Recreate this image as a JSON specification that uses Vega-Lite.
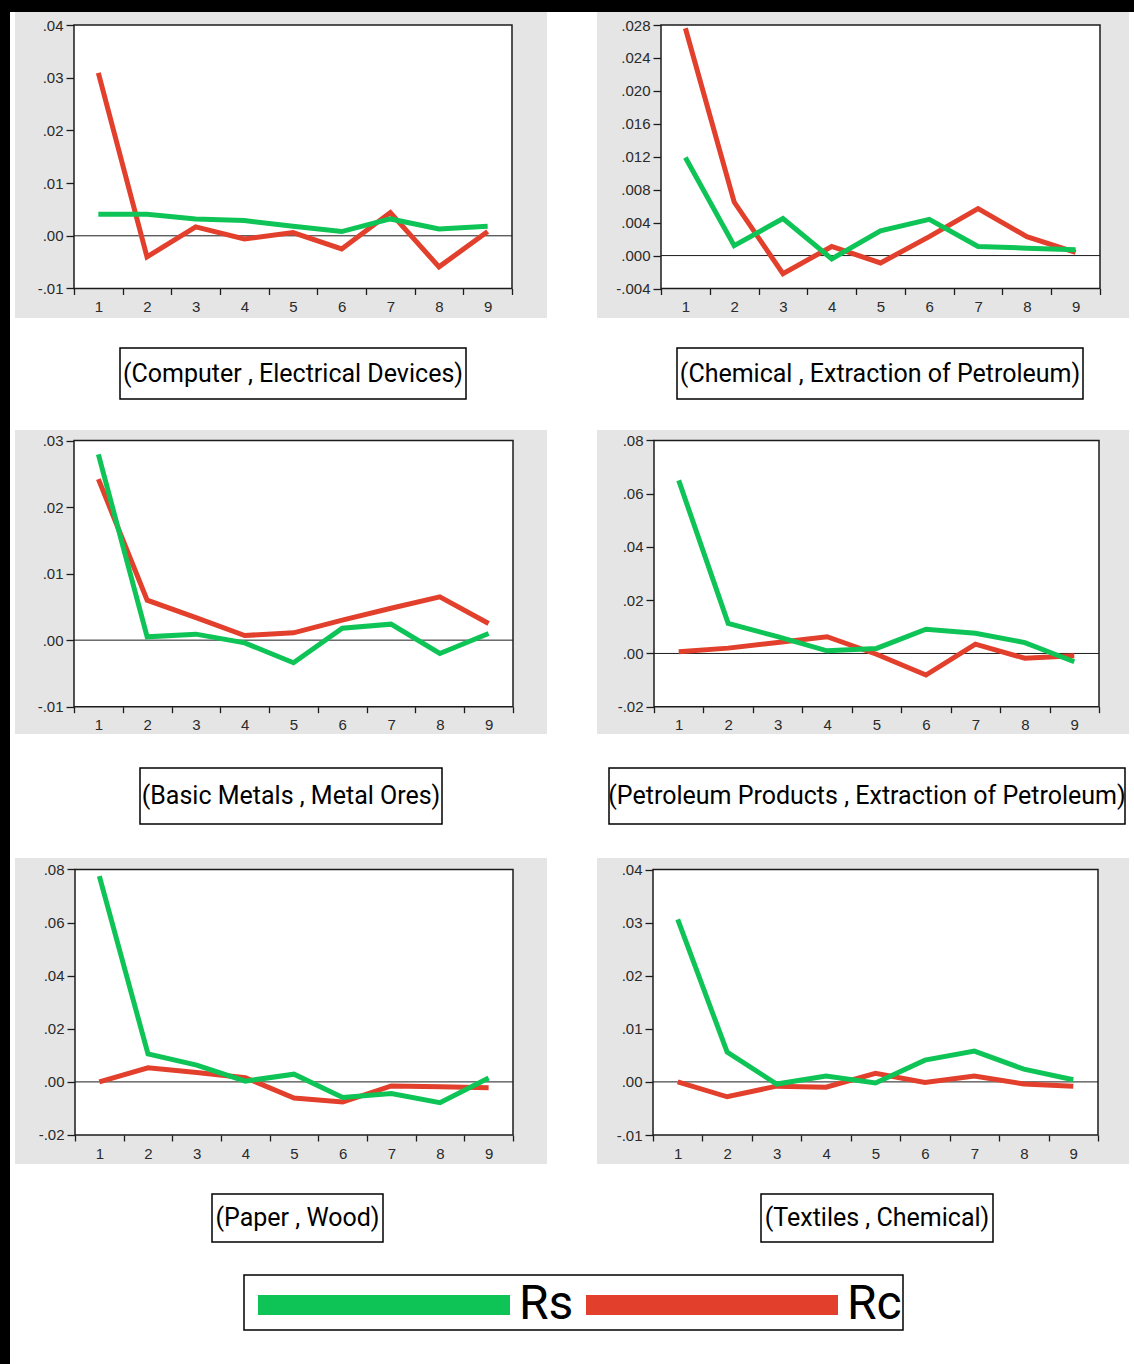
{
  "$schema": "https://vega.github.io/schema/vega-lite/v6.json",
  "background": "white",
  "padding": 0,
  "autosize": {"type": "pad"},
  "config": {
    "view": {"stroke": null},
    "concat": {"spacing": 0},
    "axis": {"grid": false, "domain": false, "labelFont": "Liberation Sans", "labelFontSize": 15, "labelColor": "#2a2a2a", "tickColor": "#1c1c1c", "tickWidth": 1.3, "labelOverlap": false, "labelFlush": false, "labelBound": false},
    "axisX": {"tickSize": 6, "labelPadding": 5, "labelAngle": 0},
    "axisY": {"tickSize": 8, "labelPadding": 3},
    "text": {"font": "Roboto", "fontSize": 25, "color": "black"}
  },
  "datasets": {
    "irf": [
      {"panel":1,"t":1,"series":"Rc","v":0.0309},{"panel":1,"t":2,"series":"Rc","v":-0.0040},{"panel":1,"t":3,"series":"Rc","v":0.0017},{"panel":1,"t":4,"series":"Rc","v":-0.0006},{"panel":1,"t":5,"series":"Rc","v":0.0006},{"panel":1,"t":6,"series":"Rc","v":-0.0025},{"panel":1,"t":7,"series":"Rc","v":0.0044},{"panel":1,"t":8,"series":"Rc","v":-0.0059},{"panel":1,"t":9,"series":"Rc","v":0.0008},
      {"panel":1,"t":1,"series":"Rs","v":0.0041},{"panel":1,"t":2,"series":"Rs","v":0.0041},{"panel":1,"t":3,"series":"Rs","v":0.0032},{"panel":1,"t":4,"series":"Rs","v":0.0029},{"panel":1,"t":5,"series":"Rs","v":0.0018},{"panel":1,"t":6,"series":"Rs","v":0.0008},{"panel":1,"t":7,"series":"Rs","v":0.0032},{"panel":1,"t":8,"series":"Rs","v":0.0013},{"panel":1,"t":9,"series":"Rs","v":0.0018},
      {"panel":2,"t":1,"series":"Rc","v":0.0276},{"panel":2,"t":2,"series":"Rc","v":0.0065},{"panel":2,"t":3,"series":"Rc","v":-0.0022},{"panel":2,"t":4,"series":"Rc","v":0.0011},{"panel":2,"t":5,"series":"Rc","v":-0.0009},{"panel":2,"t":6,"series":"Rc","v":0.0023},{"panel":2,"t":7,"series":"Rc","v":0.0057},{"panel":2,"t":8,"series":"Rc","v":0.0023},{"panel":2,"t":9,"series":"Rc","v":0.0004},
      {"panel":2,"t":1,"series":"Rs","v":0.0119},{"panel":2,"t":2,"series":"Rs","v":0.0012},{"panel":2,"t":3,"series":"Rs","v":0.0045},{"panel":2,"t":4,"series":"Rs","v":-0.0004},{"panel":2,"t":5,"series":"Rs","v":0.0030},{"panel":2,"t":6,"series":"Rs","v":0.0044},{"panel":2,"t":7,"series":"Rs","v":0.0011},{"panel":2,"t":8,"series":"Rs","v":0.0009},{"panel":2,"t":9,"series":"Rs","v":0.0007},
      {"panel":3,"t":1,"series":"Rc","v":0.0242},{"panel":3,"t":2,"series":"Rc","v":0.0060},{"panel":3,"t":3,"series":"Rc","v":0.0034},{"panel":3,"t":4,"series":"Rc","v":0.0007},{"panel":3,"t":5,"series":"Rc","v":0.0011},{"panel":3,"t":6,"series":"Rc","v":0.0030},{"panel":3,"t":7,"series":"Rc","v":0.0048},{"panel":3,"t":8,"series":"Rc","v":0.0065},{"panel":3,"t":9,"series":"Rc","v":0.0025},
      {"panel":3,"t":1,"series":"Rs","v":0.0279},{"panel":3,"t":2,"series":"Rs","v":0.0005},{"panel":3,"t":3,"series":"Rs","v":0.0009},{"panel":3,"t":4,"series":"Rs","v":-0.0004},{"panel":3,"t":5,"series":"Rs","v":-0.0034},{"panel":3,"t":6,"series":"Rs","v":0.0018},{"panel":3,"t":7,"series":"Rs","v":0.0024},{"panel":3,"t":8,"series":"Rs","v":-0.0020},{"panel":3,"t":9,"series":"Rs","v":0.0010},
      {"panel":4,"t":1,"series":"Rc","v":0.0006},{"panel":4,"t":2,"series":"Rc","v":0.0020},{"panel":4,"t":3,"series":"Rc","v":0.0041},{"panel":4,"t":4,"series":"Rc","v":0.0063},{"panel":4,"t":5,"series":"Rc","v":-0.0003},{"panel":4,"t":6,"series":"Rc","v":-0.0081},{"panel":4,"t":7,"series":"Rc","v":0.0035},{"panel":4,"t":8,"series":"Rc","v":-0.0018},{"panel":4,"t":9,"series":"Rc","v":-0.0009},
      {"panel":4,"t":1,"series":"Rs","v":0.0650},{"panel":4,"t":2,"series":"Rs","v":0.0113},{"panel":4,"t":3,"series":"Rs","v":0.0063},{"panel":4,"t":4,"series":"Rs","v":0.0010},{"panel":4,"t":5,"series":"Rs","v":0.0019},{"panel":4,"t":6,"series":"Rs","v":0.0091},{"panel":4,"t":7,"series":"Rs","v":0.0076},{"panel":4,"t":8,"series":"Rs","v":0.0041},{"panel":4,"t":9,"series":"Rs","v":-0.0031},
      {"panel":5,"t":1,"series":"Rc","v":0.0000},{"panel":5,"t":2,"series":"Rc","v":0.0053},{"panel":5,"t":3,"series":"Rc","v":0.0035},{"panel":5,"t":4,"series":"Rc","v":0.0016},{"panel":5,"t":5,"series":"Rc","v":-0.0061},{"panel":5,"t":6,"series":"Rc","v":-0.0076},{"panel":5,"t":7,"series":"Rc","v":-0.0015},{"panel":5,"t":8,"series":"Rc","v":-0.0018},{"panel":5,"t":9,"series":"Rc","v":-0.0022},
      {"panel":5,"t":1,"series":"Rs","v":0.0775},{"panel":5,"t":2,"series":"Rs","v":0.0105},{"panel":5,"t":3,"series":"Rs","v":0.0063},{"panel":5,"t":4,"series":"Rs","v":0.0003},{"panel":5,"t":5,"series":"Rs","v":0.0029},{"panel":5,"t":6,"series":"Rs","v":-0.0059},{"panel":5,"t":7,"series":"Rs","v":-0.0044},{"panel":5,"t":8,"series":"Rs","v":-0.0078},{"panel":5,"t":9,"series":"Rs","v":0.0015},
      {"panel":6,"t":1,"series":"Rc","v":0.0000},{"panel":6,"t":2,"series":"Rc","v":-0.0028},{"panel":6,"t":3,"series":"Rc","v":-0.0008},{"panel":6,"t":4,"series":"Rc","v":-0.0010},{"panel":6,"t":5,"series":"Rc","v":0.0016},{"panel":6,"t":6,"series":"Rc","v":-0.0001},{"panel":6,"t":7,"series":"Rc","v":0.0011},{"panel":6,"t":8,"series":"Rc","v":-0.0004},{"panel":6,"t":9,"series":"Rc","v":-0.0008},
      {"panel":6,"t":1,"series":"Rs","v":0.0306},{"panel":6,"t":2,"series":"Rs","v":0.0056},{"panel":6,"t":3,"series":"Rs","v":-0.0004},{"panel":6,"t":4,"series":"Rs","v":0.0011},{"panel":6,"t":5,"series":"Rs","v":-0.0002},{"panel":6,"t":6,"series":"Rs","v":0.0041},{"panel":6,"t":7,"series":"Rs","v":0.0058},{"panel":6,"t":8,"series":"Rs","v":0.0024},{"panel":6,"t":9,"series":"Rs","v":0.0004}
    ]
  },
  "spacing": 0,
  "vconcat": [
    {"width": 1134, "height": 12, "view": {"fill": "black", "stroke": null}, "data": {"values": [{}]}, "mark": {"type": "text", "text": "", "fontSize": 0}},
    {"spacing": 0, "hconcat": [
      {"width": 10, "height": 1352, "view": {"fill": "black", "stroke": null}, "data": {"values": [{}]}, "mark": {"type": "text", "text": "", "fontSize": 0}},
      {"spacing": 0, "vconcat": [
        {"spacing": 0, "hconcat": [
          {"width": 5, "height": 306, "data": {"values": [{}]}, "mark": {"type": "text", "text": "", "fontSize": 0}},
          {"width": 532, "height": 306, "view": {"fill": "#e5e5e5", "stroke": null}, "layer": [
            {"data": {"values": [{}]}, "mark": {"type": "rect", "fill": "white", "stroke": "#1c1c1c", "strokeWidth": 1.5},
             "encoding": {"x": {"datum": 0.5, "type": "quantitative", "scale": {"domain": [-0.7123, 10.2192], "nice": false, "zero": false}}, "x2": {"datum": 9.5},
                          "y": {"datum": -0.01, "type": "quantitative", "scale": {"domain": [-0.015598, 0.042467], "nice": false, "zero": false}}, "y2": {"datum": 0.04}}},
            {"data": {"values": [{}]}, "mark": {"type": "rule", "color": "#1c1c1c", "strokeWidth": 1},
             "encoding": {"x": {"datum": 0.5, "type": "quantitative", "scale": {"domain": [-0.7123, 10.2192], "nice": false, "zero": false}}, "x2": {"datum": 9.5},
                          "y": {"datum": 0, "type": "quantitative", "scale": {"domain": [-0.015598, 0.042467], "nice": false, "zero": false}}}},
            {"data": {"name": "irf"}, "transform": [{"filter": "datum.panel === 1"}], "mark": {"type": "line", "strokeWidth": 5},
             "encoding": {
               "x": {"field": "t", "type": "quantitative", "scale": {"domain": [-0.7123, 10.2192], "nice": false, "zero": false},
                     "axis": {"values": [0.5,1.5,2.5,3.5,4.5,5.5,6.5,7.5,8.5,9.5], "tickCount": 20, "labelExpr": "datum.value < 9 ? format(datum.value + 0.5, 'd') : ''", "labelOffset": 24.33, "labelOverlap": false, "offset": -29.5, "title": null}},
               "y": {"field": "v", "type": "quantitative", "scale": {"domain": [-0.015598, 0.042467], "nice": false, "zero": false},
                     "axis": {"values": [-0.01,0,0.01,0.02,0.03,0.04], "tickCount": 20, "labelExpr": "replace(replace(format(datum.value, '.2f'), '0.', '.'), '\u2212', '-')", "labelOverlap": false, "offset": -59, "title": null}},
               "color": {"field": "series", "type": "nominal", "scale": {"domain": ["Rs", "Rc"], "range": ["#0fc457", "#e2402c"]},
                         "legend": {"orient": "none", "legendX": 246, "legendY": 1280, "direction": "horizontal", "title": null, "symbolType": "M-8.4,0H8.4", "symbolStrokeWidth": 20, "symbolSize": 900, "labelFont": "Roboto", "labelFontSize": 48, "labelColor": "black", "labelOffset": 110, "symbolOffset": 113, "columnPadding": -29, "padding": 0, "labelLimit": 400}}
             }}
          ]},
          {"width": 50, "height": 306, "data": {"values": [{}]}, "mark": {"type": "text", "text": "", "fontSize": 0}},
          {"width": 532, "height": 306, "view": {"fill": "#e5e5e5", "stroke": null}, "layer": [
            {"data": {"values": [{}]}, "mark": {"type": "rect", "fill": "white", "stroke": "#1c1c1c", "strokeWidth": 1.5},
             "encoding": {"x": {"datum": 0.5, "type": "quantitative", "scale": {"domain": [-0.8121, 10.0945], "nice": false, "zero": false}}, "x2": {"datum": 9.5},
                          "y": {"datum": -0.004, "type": "quantitative", "scale": {"domain": [-0.0075825, 0.029579], "nice": false, "zero": false}}, "y2": {"datum": 0.028}}},
            {"data": {"values": [{}]}, "mark": {"type": "rule", "color": "#1c1c1c", "strokeWidth": 1},
             "encoding": {"x": {"datum": 0.5, "type": "quantitative", "scale": {"domain": [-0.8121, 10.0945], "nice": false, "zero": false}}, "x2": {"datum": 9.5},
                          "y": {"datum": 0, "type": "quantitative", "scale": {"domain": [-0.0075825, 0.029579], "nice": false, "zero": false}}}},
            {"data": {"name": "irf"}, "transform": [{"filter": "datum.panel === 2"}], "mark": {"type": "line", "strokeWidth": 5},
             "encoding": {
               "x": {"field": "t", "type": "quantitative", "scale": {"domain": [-0.8121, 10.0945], "nice": false, "zero": false},
                     "axis": {"values": [0.5,1.5,2.5,3.5,4.5,5.5,6.5,7.5,8.5,9.5], "tickCount": 20, "labelExpr": "datum.value < 9 ? format(datum.value + 0.5, 'd') : ''", "labelOffset": 24.39, "labelOverlap": false, "offset": -29.5, "title": null}},
               "y": {"field": "v", "type": "quantitative", "scale": {"domain": [-0.0075825, 0.029579], "nice": false, "zero": false},
                     "axis": {"values": [-0.004,0,0.004,0.008,0.012,0.016,0.02,0.024,0.028], "tickCount": 20, "labelExpr": "replace(replace(format(datum.value, '.3f'), '0.', '.'), '\u2212', '-')", "labelOverlap": false, "offset": -64, "title": null}},
               "color": {"field": "series", "type": "nominal", "scale": {"domain": ["Rs", "Rc"], "range": ["#0fc457", "#e2402c"]},
                         "legend": {"orient": "none", "legendX": 246, "legendY": 1280, "direction": "horizontal", "title": null, "symbolType": "M-8.4,0H8.4", "symbolStrokeWidth": 20, "symbolSize": 900, "labelFont": "Roboto", "labelFontSize": 48, "labelColor": "black", "labelOffset": 110, "symbolOffset": 113, "columnPadding": -29, "padding": 0, "labelLimit": 400}}
             }}
          ]}
        ]},
        {"spacing": 0, "vconcat": [
          {"width": 1119, "height": 29, "data": {"values": [{}]}, "mark": {"type": "text", "text": "", "fontSize": 0}},
          {"spacing": 0, "hconcat": [
            {"width": 109, "height": 51, "data": {"values": [{}]}, "mark": {"type": "text", "text": "", "fontSize": 0}},
            {"width": 346, "height": 51, "view": {"stroke": "black", "strokeWidth": 1.5, "fill": "white"}, "data": {"values": [{}]}, "mark": {"type": "text", "text": "(Computer , Electrical Devices)"}},
            {"width": 209, "height": 51, "data": {"values": [{}]}, "mark": {"type": "text", "text": "", "fontSize": 0}},
            {"width": 406, "height": 51, "view": {"stroke": "black", "strokeWidth": 1.5, "fill": "white"}, "data": {"values": [{}]}, "mark": {"type": "text", "text": "(Chemical , Extraction of Petroleum)"}},
            {"width": 49, "height": 51, "data": {"values": [{}]}, "mark": {"type": "text", "text": "", "fontSize": 0}}
          ]},
          {"width": 1119, "height": 30, "data": {"values": [{}]}, "mark": {"type": "text", "text": "", "fontSize": 0}}
        ]},
        {"spacing": 0, "hconcat": [
          {"width": 5, "height": 304, "data": {"values": [{}]}, "mark": {"type": "text", "text": "", "fontSize": 0}},
          {"width": 532, "height": 304, "view": {"fill": "#e5e5e5", "stroke": null}, "layer": [
            {"data": {"values": [{}]}, "mark": {"type": "rect", "fill": "white", "stroke": "#1c1c1c", "strokeWidth": 1.5},
             "encoding": {"x": {"datum": 0.5, "type": "quantitative", "scale": {"domain": [-0.7096, 10.197], "nice": false, "zero": false}}, "x2": {"datum": 9.5},
                          "y": {"datum": -0.01, "type": "quantitative", "scale": {"domain": [-0.014102, 0.031578], "nice": false, "zero": false}}, "y2": {"datum": 0.03}}},
            {"data": {"values": [{}]}, "mark": {"type": "rule", "color": "#1c1c1c", "strokeWidth": 1},
             "encoding": {"x": {"datum": 0.5, "type": "quantitative", "scale": {"domain": [-0.7096, 10.197], "nice": false, "zero": false}}, "x2": {"datum": 9.5},
                          "y": {"datum": 0, "type": "quantitative", "scale": {"domain": [-0.014102, 0.031578], "nice": false, "zero": false}}}},
            {"data": {"name": "irf"}, "transform": [{"filter": "datum.panel === 3"}], "mark": {"type": "line", "strokeWidth": 5},
             "encoding": {
               "x": {"field": "t", "type": "quantitative", "scale": {"domain": [-0.7096, 10.197], "nice": false, "zero": false},
                     "axis": {"values": [0.5,1.5,2.5,3.5,4.5,5.5,6.5,7.5,8.5,9.5], "tickCount": 20, "labelExpr": "datum.value < 9 ? format(datum.value + 0.5, 'd') : ''", "labelOffset": 24.39, "labelOverlap": false, "offset": -27.3, "title": null}},
               "y": {"field": "v", "type": "quantitative", "scale": {"domain": [-0.014102, 0.031578], "nice": false, "zero": false},
                     "axis": {"values": [-0.01,0,0.01,0.02,0.03], "tickCount": 20, "labelExpr": "replace(replace(format(datum.value, '.2f'), '0.', '.'), '\u2212', '-')", "labelOverlap": false, "offset": -59, "title": null}},
               "color": {"field": "series", "type": "nominal", "scale": {"domain": ["Rs", "Rc"], "range": ["#0fc457", "#e2402c"]},
                         "legend": {"orient": "none", "legendX": 246, "legendY": 1280, "direction": "horizontal", "title": null, "symbolType": "M-8.4,0H8.4", "symbolStrokeWidth": 20, "symbolSize": 900, "labelFont": "Roboto", "labelFontSize": 48, "labelColor": "black", "labelOffset": 110, "symbolOffset": 113, "columnPadding": -29, "padding": 0, "labelLimit": 400}}
             }}
          ]},
          {"width": 50, "height": 304, "data": {"values": [{}]}, "mark": {"type": "text", "text": "", "fontSize": 0}},
          {"width": 532, "height": 304, "view": {"fill": "#e5e5e5", "stroke": null}, "layer": [
            {"data": {"values": [{}]}, "mark": {"type": "rect", "fill": "white", "stroke": "#1c1c1c", "strokeWidth": 1.5},
             "encoding": {"x": {"datum": 0.5, "type": "quantitative", "scale": {"domain": [-0.6528, 10.1067], "nice": false, "zero": false}}, "x2": {"datum": 9.5},
                          "y": {"datum": -0.02, "type": "quantitative", "scale": {"domain": [-0.030256, 0.083944], "nice": false, "zero": false}}, "y2": {"datum": 0.08}}},
            {"data": {"values": [{}]}, "mark": {"type": "rule", "color": "#1c1c1c", "strokeWidth": 1},
             "encoding": {"x": {"datum": 0.5, "type": "quantitative", "scale": {"domain": [-0.6528, 10.1067], "nice": false, "zero": false}}, "x2": {"datum": 9.5},
                          "y": {"datum": 0, "type": "quantitative", "scale": {"domain": [-0.030256, 0.083944], "nice": false, "zero": false}}}},
            {"data": {"name": "irf"}, "transform": [{"filter": "datum.panel === 4"}], "mark": {"type": "line", "strokeWidth": 5},
             "encoding": {
               "x": {"field": "t", "type": "quantitative", "scale": {"domain": [-0.6528, 10.1067], "nice": false, "zero": false},
                     "axis": {"values": [0.5,1.5,2.5,3.5,4.5,5.5,6.5,7.5,8.5,9.5], "tickCount": 20, "labelExpr": "datum.value < 9 ? format(datum.value + 0.5, 'd') : ''", "labelOffset": 24.72, "labelOverlap": false, "offset": -27.3, "title": null}},
               "y": {"field": "v", "type": "quantitative", "scale": {"domain": [-0.030256, 0.083944], "nice": false, "zero": false},
                     "axis": {"values": [-0.02,0,0.02,0.04,0.06,0.08], "tickCount": 20, "labelExpr": "replace(replace(format(datum.value, '.2f'), '0.', '.'), '\u2212', '-')", "labelOverlap": false, "offset": -57, "title": null}},
               "color": {"field": "series", "type": "nominal", "scale": {"domain": ["Rs", "Rc"], "range": ["#0fc457", "#e2402c"]},
                         "legend": {"orient": "none", "legendX": 246, "legendY": 1280, "direction": "horizontal", "title": null, "symbolType": "M-8.4,0H8.4", "symbolStrokeWidth": 20, "symbolSize": 900, "labelFont": "Roboto", "labelFontSize": 48, "labelColor": "black", "labelOffset": 110, "symbolOffset": 113, "columnPadding": -29, "padding": 0, "labelLimit": 400}}
             }}
          ]}
        ]},
        {"spacing": 0, "vconcat": [
          {"width": 1119, "height": 33, "data": {"values": [{}]}, "mark": {"type": "text", "text": "", "fontSize": 0}},
          {"spacing": 0, "hconcat": [
            {"width": 129, "height": 56, "data": {"values": [{}]}, "mark": {"type": "text", "text": "", "fontSize": 0}},
            {"width": 302, "height": 56, "view": {"stroke": "black", "strokeWidth": 1.5, "fill": "white"}, "data": {"values": [{}]}, "mark": {"type": "text", "text": "(Basic Metals , Metal Ores)"}},
            {"width": 164, "height": 56, "data": {"values": [{}]}, "mark": {"type": "text", "text": "", "fontSize": 0}},
            {"width": 516, "height": 56, "view": {"stroke": "black", "strokeWidth": 1.5, "fill": "white"}, "data": {"values": [{}]}, "mark": {"type": "text", "text": "(Petroleum Products , Extraction of Petroleum)"}},
            {"width": 8, "height": 56, "data": {"values": [{}]}, "mark": {"type": "text", "text": "", "fontSize": 0}}
          ]},
          {"width": 1119, "height": 33, "data": {"values": [{}]}, "mark": {"type": "text", "text": "", "fontSize": 0}}
        ]},
        {"spacing": 0, "hconcat": [
          {"width": 5, "height": 306, "data": {"values": [{}]}, "mark": {"type": "text", "text": "", "fontSize": 0}},
          {"width": 532, "height": 306, "view": {"fill": "#e5e5e5", "stroke": null}, "layer": [
            {"data": {"values": [{}]}, "mark": {"type": "rect", "fill": "white", "stroke": "#1c1c1c", "strokeWidth": 1.5},
             "encoding": {"x": {"datum": 0.5, "type": "quantitative", "scale": {"domain": [-0.7329, 10.1986], "nice": false, "zero": false}}, "x2": {"datum": 9.5},
                          "y": {"datum": -0.02, "type": "quantitative", "scale": {"domain": [-0.030923, 0.084331], "nice": false, "zero": false}}, "y2": {"datum": 0.08}}},
            {"data": {"values": [{}]}, "mark": {"type": "rule", "color": "#1c1c1c", "strokeWidth": 1},
             "encoding": {"x": {"datum": 0.5, "type": "quantitative", "scale": {"domain": [-0.7329, 10.1986], "nice": false, "zero": false}}, "x2": {"datum": 9.5},
                          "y": {"datum": 0, "type": "quantitative", "scale": {"domain": [-0.030923, 0.084331], "nice": false, "zero": false}}}},
            {"data": {"name": "irf"}, "transform": [{"filter": "datum.panel === 5"}], "mark": {"type": "line", "strokeWidth": 5},
             "encoding": {
               "x": {"field": "t", "type": "quantitative", "scale": {"domain": [-0.7329, 10.1986], "nice": false, "zero": false},
                     "axis": {"values": [0.5,1.5,2.5,3.5,4.5,5.5,6.5,7.5,8.5,9.5], "tickCount": 20, "labelExpr": "datum.value < 9 ? format(datum.value + 0.5, 'd') : ''", "labelOffset": 24.33, "labelOverlap": false, "offset": -29, "title": null}},
               "y": {"field": "v", "type": "quantitative", "scale": {"domain": [-0.030923, 0.084331], "nice": false, "zero": false},
                     "axis": {"values": [-0.02,0,0.02,0.04,0.06,0.08], "tickCount": 20, "labelExpr": "replace(replace(format(datum.value, '.2f'), '0.', '.'), '\u2212', '-')", "labelOverlap": false, "offset": -60, "title": null}},
               "color": {"field": "series", "type": "nominal", "scale": {"domain": ["Rs", "Rc"], "range": ["#0fc457", "#e2402c"]},
                         "legend": {"orient": "none", "legendX": 246, "legendY": 1280, "direction": "horizontal", "title": null, "symbolType": "M-8.4,0H8.4", "symbolStrokeWidth": 20, "symbolSize": 900, "labelFont": "Roboto", "labelFontSize": 48, "labelColor": "black", "labelOffset": 110, "symbolOffset": 113, "columnPadding": -29, "padding": 0, "labelLimit": 400}}
             }}
          ]},
          {"width": 50, "height": 306, "data": {"values": [{}]}, "mark": {"type": "text", "text": "", "fontSize": 0}},
          {"width": 532, "height": 306, "view": {"fill": "#e5e5e5", "stroke": null}, "layer": [
            {"data": {"values": [{}]}, "mark": {"type": "rect", "fill": "white", "stroke": "#1c1c1c", "strokeWidth": 1.5},
             "encoding": {"x": {"datum": 0.5, "type": "quantitative", "scale": {"domain": [-0.6326, 10.127], "nice": false, "zero": false}}, "x2": {"datum": 9.5},
                          "y": {"datum": -0.01, "type": "quantitative", "scale": {"domain": [-0.015461, 0.042166], "nice": false, "zero": false}}, "y2": {"datum": 0.04}}},
            {"data": {"values": [{}]}, "mark": {"type": "rule", "color": "#1c1c1c", "strokeWidth": 1},
             "encoding": {"x": {"datum": 0.5, "type": "quantitative", "scale": {"domain": [-0.6326, 10.127], "nice": false, "zero": false}}, "x2": {"datum": 9.5},
                          "y": {"datum": 0, "type": "quantitative", "scale": {"domain": [-0.015461, 0.042166], "nice": false, "zero": false}}}},
            {"data": {"name": "irf"}, "transform": [{"filter": "datum.panel === 6"}], "mark": {"type": "line", "strokeWidth": 5},
             "encoding": {
               "x": {"field": "t", "type": "quantitative", "scale": {"domain": [-0.6326, 10.127], "nice": false, "zero": false},
                     "axis": {"values": [0.5,1.5,2.5,3.5,4.5,5.5,6.5,7.5,8.5,9.5], "tickCount": 20, "labelExpr": "datum.value < 9 ? format(datum.value + 0.5, 'd') : ''", "labelOffset": 24.72, "labelOverlap": false, "offset": -29, "title": null}},
               "y": {"field": "v", "type": "quantitative", "scale": {"domain": [-0.015461, 0.042166], "nice": false, "zero": false},
                     "axis": {"values": [-0.01,0,0.01,0.02,0.03,0.04], "tickCount": 20, "labelExpr": "replace(replace(format(datum.value, '.2f'), '0.', '.'), '\u2212', '-')", "labelOverlap": false, "offset": -56, "title": null}},
               "color": {"field": "series", "type": "nominal", "scale": {"domain": ["Rs", "Rc"], "range": ["#0fc457", "#e2402c"]},
                         "legend": {"orient": "none", "legendX": 246, "legendY": 1280, "direction": "horizontal", "title": null, "symbolType": "M-8.4,0H8.4", "symbolStrokeWidth": 20, "symbolSize": 900, "labelFont": "Roboto", "labelFontSize": 48, "labelColor": "black", "labelOffset": 110, "symbolOffset": 113, "columnPadding": -29, "padding": 0, "labelLimit": 400}}
             }}
          ]}
        ]},
        {"spacing": 0, "vconcat": [
          {"width": 1119, "height": 29, "data": {"values": [{}]}, "mark": {"type": "text", "text": "", "fontSize": 0}},
          {"spacing": 0, "hconcat": [
            {"width": 201, "height": 48, "data": {"values": [{}]}, "mark": {"type": "text", "text": "", "fontSize": 0}},
            {"width": 171, "height": 48, "view": {"stroke": "black", "strokeWidth": 1.5, "fill": "white"}, "data": {"values": [{}]}, "mark": {"type": "text", "text": "(Paper , Wood)"}},
            {"width": 376, "height": 48, "data": {"values": [{}]}, "mark": {"type": "text", "text": "", "fontSize": 0}},
            {"width": 232, "height": 48, "view": {"stroke": "black", "strokeWidth": 1.5, "fill": "white"}, "data": {"values": [{}]}, "mark": {"type": "text", "text": "(Textiles , Chemical)"}},
            {"width": 139, "height": 48, "data": {"values": [{}]}, "mark": {"type": "text", "text": "", "fontSize": 0}}
          ]},
          {"width": 1119, "height": 31, "data": {"values": [{}]}, "mark": {"type": "text", "text": "", "fontSize": 0}},
          {"spacing": 0, "hconcat": [
            {"width": 233, "height": 55, "data": {"values": [{}]}, "mark": {"type": "text", "text": "", "fontSize": 0}},
            {"width": 659, "height": 55, "view": {"stroke": "black", "strokeWidth": 1.5, "fill": "white"}, "data": {"values": [{}]}, "mark": {"type": "text", "text": "", "fontSize": 0}},
            {"width": 227, "height": 55, "data": {"values": [{}]}, "mark": {"type": "text", "text": "", "fontSize": 0}}
          ]},
          {"width": 1119, "height": 33, "data": {"values": [{}]}, "mark": {"type": "text", "text": "", "fontSize": 0}}
        ]}
      ]},
      {"width": 5, "height": 1352, "view": {"fill": "black", "stroke": null}, "data": {"values": [{}]}, "mark": {"type": "text", "text": "", "fontSize": 0}}
    ]}
  ]
}
